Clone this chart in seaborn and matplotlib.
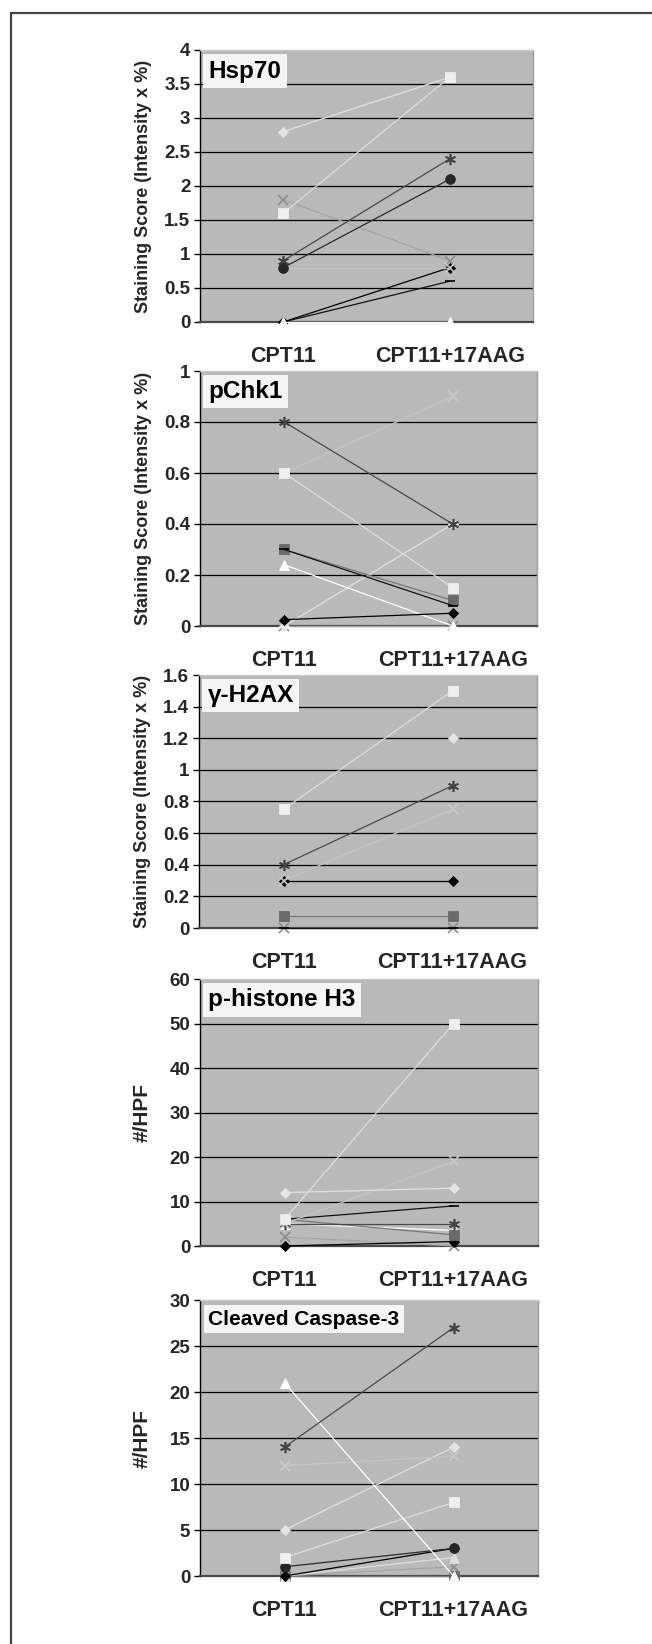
import numpy as np
import pandas as pd
import matplotlib
matplotlib.use("Agg")
import matplotlib.pyplot as plt
from matplotlib.lines import Line2D
from matplotlib.ticker import MultipleLocator, FuncFormatter
import seaborn as sns

# ── Data ───────────────────────────────────────────
CONDITIONS = ["CPT11", "CPT11+17AAG"]

# Hsp70
HSP70_SERIES = ["bdiam", "dash", "wtri", "gx", "lx", "star", "circ", "ldiam", "lsq"]
HSP70_CPT    = [0.0, 0.0, 0.0, 1.8, 0.8, 0.9, 0.8, 2.8, 1.6]
HSP70_COMBO  = [0.8, 0.6, 0.0, 0.9, 0.8, 2.4, 2.1, 3.6, 3.6]

# pChk1
PCHK1_SERIES = ["gx", "ldiam", "lx", "lsq", "gsq", "dash", "wtri", "bdiam", "star"]
PCHK1_CPT    = [0.0, 0.0, 0.6, 0.6, 0.3, 0.3, 0.24, 0.025, 0.8]
PCHK1_COMBO  = [0.0, 0.4, 0.9, 0.15, 0.1, 0.08, 0.0, 0.05, 0.4]

# gamma-H2AX
H2AX_SERIES = ["gx", "dash", "gsq", "bdiam", "lx", "star", "ldiam", "lsq"]
H2AX_CPT    = [0.0, 0.0, 0.075, 0.3, 0.3, 0.4, np.nan, 0.75]
H2AX_COMBO  = [0.0, 0.0, 0.075, 0.3, 0.75, 0.9, 1.2, 1.5]

# p-histone H3
PH3_SERIES = ["gx", "bdiam", "wtri", "gsq", "star", "dash", "lx", "ldiam", "lsq"]
PH3_CPT    = [2, 0, 5, 6, 5, 6, 5, 12, 6]
PH3_COMBO  = [0, 1, 3.5, 2.5, 5, 9, 19, 13, 50]

# Cleaved Caspase-3
CASP_SERIES = ["gsq", "gx", "ltri", "bdiam", "circ", "lsq", "ldiam", "lx", "wtri", "star"]
CASP_CPT    = [0, 0, 0, 0, 1, 2, 5, 12, 21, 14]
CASP_COMBO  = [0, 1, 2, 3, 3, 8, 14, 13, 0, 27]

PANELS = [
    ("Hsp70", "Staining Score (Intensity x %)", 4, 0.5,
     HSP70_SERIES, HSP70_CPT, HSP70_COMBO),
    ("pChk1", "Staining Score (Intensity x %)", 1, 0.2,
     PCHK1_SERIES, PCHK1_CPT, PCHK1_COMBO),
    ("γ-H2AX", "Staining Score (Intensity x %)", 1.6, 0.2,
     H2AX_SERIES, H2AX_CPT, H2AX_COMBO),
    ("p-histone H3", "#/HPF", 60, 10,
     PH3_SERIES, PH3_CPT, PH3_COMBO),
    ("Cleaved Caspase-3", "#/HPF", 30, 5,
     CASP_SERIES, CASP_CPT, CASP_COMBO),
]

# ── Series styles (marker, marker colour, line colour, size) ──
STYLES = {
    "bdiam": ("D", "#000000", "#000000", 5.5),
    "dash":  ("_", "#000000", "#111111", 7),
    "wtri":  ("^", "#ffffff", "#ffffff", 7),
    "ltri":  ("^", "#dedede", "#dedede", 7),
    "gx":    ("x", "#8c8c8c", "#a4a4a4", 6.5),
    "lx":    ("x", "#c8c8c8", "#c3c3c3", 6.5),
    "star":  ((6, 2, 0), "#444444", "#4a4a4a", 8),
    "circ":  ("o", "#262626", "#2a2a2a", 7),
    "gsq":   ("s", "#6a6a6a", "#777777", 6.5),
    "ldiam": ("D", "#e4e4e4", "#e0e0e0", 5.5),
    "lsq":   ("s", "#efefef", "#dcdcdc", 6.5),
}

# ── Layout in pixels (figure is 652 x 1644) ────────
W, H = 652, 1644
AX_BOXES = [  # left, right, top, bottom
    (200, 533, 50, 322),
    (200, 537, 371, 626),
    (199, 537, 675, 928),
    (200, 538, 979, 1246),
    (200, 538, 1300, 1576),
]
TITLE_SIZES = [17.5, 17.5, 17.5, 17.5, 15]
YLABEL_SIZES = [13, 13, 13, 15, 15]

sns.set_style("white")
plt.rcParams["font.family"] = ["Liberation Sans", "DejaVu Sans"]
plt.rcParams["font.weight"] = "bold"

fig = plt.figure(figsize=(W / 100, H / 100), dpi=100)
fig.patch.set_facecolor("white")


def fmt_tick(v, _):
    return f"{round(v, 4):g}"


for i, (title, ylabel, ymax, step, series, cpt, combo) in enumerate(PANELS):
    l, r, t, b = AX_BOXES[i]
    ax = fig.add_axes([l / W, 1 - b / H, (r - l) / W, (b - t) / H])
    ax.set_facecolor("#b9b9b9")

    for name, y0, y1 in zip(series, cpt, combo):
        marker, mcol, lcol, ms = STYLES[name]
        d = pd.DataFrame({"pos": [0, 1], "value": [y0, y1]})
        sns.lineplot(data=d, x="pos", y="value", ax=ax, color=lcol,
                     linewidth=0.9, marker=marker, markersize=ms,
                     markerfacecolor=mcol, markeredgecolor=mcol,
                     markeredgewidth=1.2 if name in ("gx", "lx", "star", "dash") else 0.6,
                     errorbar=None, clip_on=False, zorder=3)

    # horizontal gridlines
    for v in np.arange(step, ymax - step / 2, step):
        ax.axhline(v, color="black", linewidth=0.9, zorder=1)

    ax.set_xlim(-0.5, 1.5)
    ax.set_ylim(0, ymax)
    ax.yaxis.set_major_locator(MultipleLocator(step))
    ax.yaxis.set_major_formatter(FuncFormatter(fmt_tick))
    ax.set_xticks([0, 1])
    ax.set_xticklabels(CONDITIONS, fontsize=15.5, fontweight="bold")
    ax.tick_params(axis="x", length=0, pad=17)
    ax.tick_params(axis="y", length=4, width=1, color="black",
                   labelsize=13.5, pad=3, direction="out", left=True)
    for lab in ax.get_yticklabels():
        lab.set_fontweight("bold")

    ax.set_xlabel("")
    ax.set_ylabel(ylabel, fontsize=YLABEL_SIZES[i], fontweight="bold")
    ax.yaxis.set_label_coords(-48 / (r - l), 0.5)

    ax.spines["left"].set_color("black")
    ax.spines["left"].set_linewidth(1)
    ax.spines["bottom"].set_color("#4a4a4a")
    ax.spines["bottom"].set_linewidth(1.6)
    ax.spines["right"].set_color("#9c9c9c")
    ax.spines["top"].set_color("#c8c8c8")
    for s in ("right", "top"):
        ax.spines[s].set_linewidth(1)

    ax.text(0.025, 0.965, title, transform=ax.transAxes, ha="left", va="top",
            fontsize=TITLE_SIZES[i], fontweight="bold", color="black", zorder=5,
            bbox=dict(boxstyle="square,pad=0.22", facecolor="#f5f5f5",
                      edgecolor="none"))

# frame lines at top and left of the figure
fig.add_artist(Line2D([11 / W, 1], [1 - 13.5 / H, 1 - 13.5 / H],
                      color="#444444", linewidth=1.6))
fig.add_artist(Line2D([11 / W, 11 / W], [0, 1 - 13.5 / H],
                      color="#444444", linewidth=1.6))

fig.savefig("out.png", dpi=100, facecolor="white")
